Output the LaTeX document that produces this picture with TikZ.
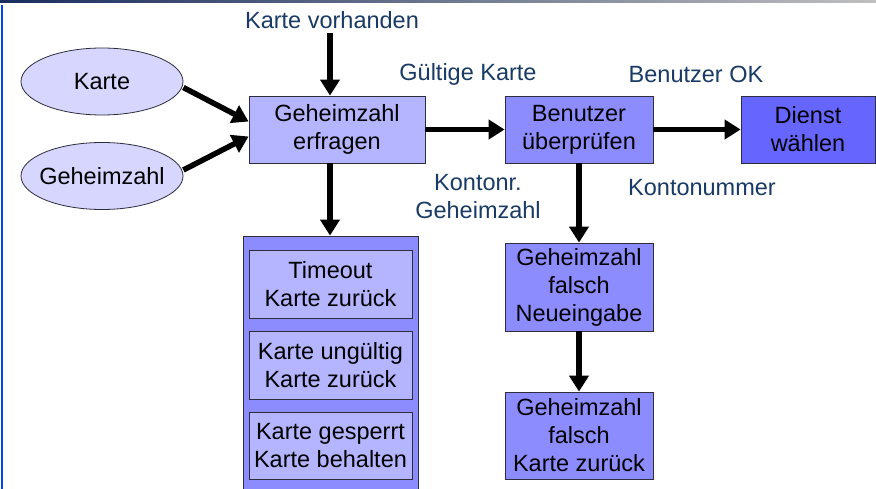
\documentclass[tikz,border=0pt]{standalone}
\usepackage{fontspec}
\setmainfont{Liberation Sans}
\usetikzlibrary{positioning,shapes.geometric,arrows.meta}
\definecolor{hell}{RGB}{180,180,255}
\definecolor{mittel}{RGB}{140,140,255}
\definecolor{dunkel}{RGB}{102,102,255}
\definecolor{rand}{RGB}{45,45,60}
\definecolor{schrift}{RGB}{24,58,100}
\definecolor{balken}{RGB}{25,45,95}
\tikzset{
    every node/.style={font=\fontsize{23.5}{28}\selectfont, align=center, inner sep=0pt},
    eingabe/.style={ellipse, draw=rand, line width=0.8pt, fill=hell!55,
        inner xsep=-8pt, minimum width=162pt, minimum height=67pt},
    kasten/.style={rectangle, draw=rand, line width=0.8pt, fill=#1,
        minimum height=67pt},
    kasten/.default=hell,
    beschrift/.style={text=schrift},
    pfeil/.style={line width=5.5pt, -{Triangle[length=16pt,width=19pt]}}
}

\begin{document}
\begin{tikzpicture}[x=1pt,y=-1pt]
\clip (0,0) rectangle (876,489);
\fill[white] (0,0) rectangle (876,489);
% Rahmen der Folie
\shade[left color=balken, right color=black!25] (0,0) rectangle (876,3);
\fill[blue!75!cyan] (0.5,5) rectangle (2.5,489);

% Eingaben
\node[eingabe] (karte) at (102,81.5) {Karte};
\node[eingabe] (geheim) at (102,176) {Geheimzahl};

% Hauptkette
\node[kasten, minimum width=176pt] (frage) at (337,129.5) {Geheimzahl\\erfragen};
\node[kasten=mittel, minimum width=148pt] (pruef) at (579,129.5) {Benutzer\\überprüfen};
\node[kasten=dunkel, minimum width=134pt] (dienst) at (808,129.5) {Dienst\\wählen};

% Fehlerfaelle
\node[kasten=mittel, minimum width=175pt, minimum height=265pt] (fehler) at (330.5,368.5) {};
\node[kasten, minimum width=163pt, minimum height=68pt] (t1) at (330.5,284) {Timeout\\Karte zurück};
\node[kasten, minimum width=163pt, minimum height=68pt] (t2) at (330.5,365) {Karte ungültig\\Karte zurück};
\node[kasten, minimum width=163pt, minimum height=67pt] (t3) at (330.5,445.5) {Karte gesperrt\\Karte behalten};

\node[kasten=mittel, minimum width=148pt, minimum height=88pt] (neu) at (579,287) {Geheimzahl\\falsch\\Neueingabe};
\node[kasten=mittel, minimum width=148pt, minimum height=87pt] (zurueck) at (579,435.5) {Geheimzahl\\falsch\\Karte zurück};

% Beschriftungen
\node[beschrift] (vorh) at (332,20) {Karte vorhanden};
\node[beschrift] (gueltig) at (468,74) {Gültige Karte};
\node[beschrift] (ok) at (696,74) {Benutzer OK};
\node[beschrift] (kontonr) at (478,197) {Kontonr.\\Geheimzahl};
\node[beschrift] (konto) at (702,188) {Kontonummer};

% Pfeile
\draw[pfeil] ([yshift=-6pt]karte.east) -- ([yshift=8pt]frage.west);
\draw[pfeil] ([yshift=6pt]geheim.east) -- ([yshift=-7pt]frage.west);
\draw[pfeil] ([xshift=-2pt,yshift=-4pt]vorh.south) -- ([xshift=-2pt]vorh.south |- frage.north);
\draw[pfeil] ([xshift=-7pt]frage.south) -- ([xshift=-7pt]frage.south |- fehler.north);
\draw[pfeil] (frage) -- (pruef);
\draw[pfeil] (pruef) -- (dienst);
\draw[pfeil] (pruef) -- (neu);
\draw[pfeil] (neu) -- (zurueck);
\end{tikzpicture}
\end{document}
